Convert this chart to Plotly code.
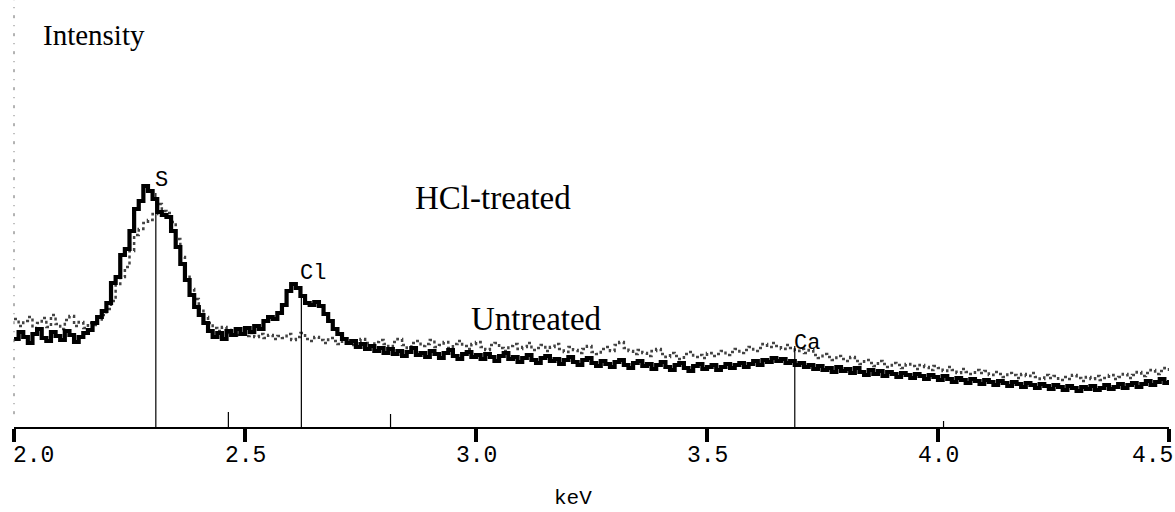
import plotly.graph_objects as go

# ---------------- data ----------------
E_START = 2.00
E_STEP = 0.01

hcl_treated = [
    88, 95, 90, 84, 93, 98, 89, 86, 95, 91,        # 2.00-2.09
    87, 96, 92, 85, 90, 94, 97, 104, 110, 116,     # 2.10-2.19
    124, 144, 150, 172, 178, 196, 218, 226, 241, 236,  # 2.20-2.29
    228, 215, 212, 210, 196, 180, 163, 147, 132, 120,  # 2.30-2.39
    112, 104, 96, 90, 94, 88, 96, 92, 98, 93,      # 2.40-2.49
    99, 95, 101, 98, 106, 110, 108, 114, 122, 136, # 2.50-2.59
    143, 139, 131, 124, 122, 125, 121, 113, 106, 98,   # 2.60-2.69
    93, 88, 84, 86, 80, 83, 78, 81, 76, 79,        # 2.70-2.79
    74, 78, 73, 76, 71, 75, 79, 72, 74, 70,        # 2.80-2.89
    76, 73, 69, 74, 77, 71, 68, 73, 75, 70,        # 2.90-2.99
    72, 68, 73, 70, 66, 71, 74, 68, 70, 65,        # 3.00-3.09
    69, 72, 67, 64, 69, 71, 66, 68, 63, 67,        # 3.10-3.19
    70, 65, 62, 67, 69, 64, 61, 66, 63, 60,        # 3.20-3.29
    65, 67, 62, 59, 64, 66, 61, 63, 58, 62,        # 3.30-3.39
    65, 60, 57, 62, 64, 59, 56, 61, 63, 58,        # 3.40-3.49
    60, 62, 57, 60, 63, 59, 62, 64, 60, 63,        # 3.50-3.59
    66, 62, 67, 65, 69, 66, 68, 64, 66, 62,        # 3.60-3.69
    64, 60, 62, 58, 61, 57, 59, 55, 60, 56,        # 3.70-3.79
    58, 54, 59, 55, 52, 57, 53, 56, 51, 55,        # 3.80-3.89
    53, 50, 54, 52, 49, 53, 51, 48, 52, 50,        # 3.90-3.99
    47, 51, 48, 45, 49, 47, 44, 48, 46, 43,        # 4.00-4.09
    47, 45, 42, 46, 44, 41, 45, 43, 40, 44,        # 4.10-4.19
    42, 39, 43, 41, 38, 42, 40, 37, 41, 39,        # 4.20-4.29
    36, 40, 38, 41, 37, 39, 42, 38, 40, 43,        # 4.30-4.39
    39, 42, 44, 40, 43, 46, 42, 45, 48, 44,        # 4.40-4.49
    47,                                            # 4.50
]

untreated = [
    108, 101, 106, 110, 99, 104, 109, 100, 112, 103,   # 2.00-2.09
    98, 107, 111, 101, 105, 99, 104, 102, 106, 112,    # 2.10-2.19
    118, 126, 143, 150, 160, 176, 192, 198, 204, 207,  # 2.20-2.29
    213, 223, 216, 214, 205, 188, 170, 152, 138, 128,  # 2.30-2.39
    118, 110, 104, 99, 96, 100, 94, 97, 92, 95,        # 2.40-2.49
    91, 94, 90, 93, 89, 92, 88, 91, 89, 93,            # 2.50-2.59
    87, 90, 94, 88, 86, 90, 87, 84, 89, 86,            # 2.60-2.69
    83, 87, 85, 82, 86, 88, 84, 81, 85, 87,            # 2.70-2.79
    83, 80, 85, 88, 82, 79, 84, 86, 81, 83,            # 2.80-2.89
    87, 80, 82, 85, 79, 83, 86, 81, 78, 83,            # 2.90-2.99
    85, 80, 77, 82, 84, 79, 76, 81, 83, 78,            # 3.00-3.09
    80, 84, 77, 79, 82, 76, 80, 83, 78, 75,            # 3.10-3.19
    80, 77, 74, 78, 81, 75, 73, 78, 80, 76,            # 3.20-3.29
    82, 85, 79, 76, 73, 77, 74, 71, 76, 78,            # 3.30-3.39
    73, 70, 74, 71, 68, 73, 75, 70, 72, 69,            # 3.40-3.49
    74, 71, 73, 76, 72, 75, 78, 74, 77, 80,            # 3.50-3.59
    76, 79, 83, 80, 84, 81, 78, 82, 79, 76,            # 3.60-3.69
    78, 74, 77, 72, 69, 73, 70, 67, 71, 68,            # 3.70-3.79
    66, 70, 66, 63, 67, 64, 61, 66, 63, 60,            # 3.80-3.89
    64, 62, 59, 63, 61, 58, 62, 60, 57, 61,            # 3.90-3.99
    59, 56, 60, 57, 54, 58, 55, 53, 57, 54,            # 4.00-4.09
    56, 52, 55, 53, 50, 54, 52, 49, 53, 51,            # 4.10-4.19
    54, 50, 48, 52, 49, 51, 47, 50, 48, 52,            # 4.20-4.29
    49, 46, 50, 48, 51, 47, 49, 52, 48, 50,            # 4.30-4.39
    53, 49, 52, 55, 51, 54, 57, 53, 56, 59,            # 4.40-4.49
    55,                                                # 4.50
]

energy = [round(E_START + i * E_STEP, 2) for i in range(len(hcl_treated))]

# element identification lines (KLM markers)
element_names = ["S", "Cl", "Ca"]
element_kev = [2.307, 2.622, 3.690]
element_line_top = [234, 141, 81]
element_label_y = [247, 154, 84]

minor_kev = [2.464, 2.815, 4.012]
minor_line_top = [15, 13, 6]

tick_vals = [2.0, 2.5, 3.0, 3.5, 4.0, 4.5]
tick_text = ["2.0", "2.5", "3.0", "3.5", "4.0", "4.5"]

series_labels = ["HCl-treated", "Untreated"]
series_label_pos = [(3.037, 229), (3.132, 108)]

# ---------------- figure ----------------
fig = go.Figure()

fig.add_trace(go.Scatter(
    x=energy, y=untreated, mode="lines", line_shape="hv",
    line=dict(color="#444444", width=2.5, dash="dot"),
    name="Untreated", hoverinfo="skip"))

fig.add_trace(go.Scatter(
    x=energy, y=hcl_treated, mode="lines", line_shape="hv",
    line=dict(color="#000000", width=4.2),
    name="HCl-treated", hoverinfo="skip"))

# marker lines
lx, ly = [], []
for e, h in zip(element_kev, element_line_top):
    lx += [e, e, None]
    ly += [0, h, None]
for e, h in zip(minor_kev, minor_line_top):
    lx += [e, e, None]
    ly += [0, h, None]
fig.add_trace(go.Scatter(x=lx, y=ly, mode="lines",
                         line=dict(color="#000000", width=1.2),
                         hoverinfo="skip", showlegend=False))

for name, e, yl in zip(element_names, element_kev, element_label_y):
    fig.add_annotation(x=e, y=yl, text=name, showarrow=False,
                       xanchor="left", yanchor="middle", xshift=-3,
                       font=dict(family="Liberation Mono", size=22, color="#000"))

for txt, (xe, yh) in zip(series_labels, series_label_pos):
    fig.add_annotation(x=xe, y=yh, text=txt, showarrow=False,
                       xanchor="center", yanchor="middle",
                       font=dict(family="Liberation Serif", size=33, color="#000"))

# tick labels
for i, (v, t) in enumerate(zip(tick_vals, tick_text)):
    if i == 0:
        xa, xs = "left", -3
    elif i == len(tick_vals) - 1:
        xa, xs = "right", 6
    else:
        xa, xs = "center", 0
    fig.add_annotation(x=v, y=0, xref="x", yref="paper", text=t,
                       showarrow=False, xanchor=xa, xshift=xs,
                       yanchor="middle", yshift=-29,
                       font=dict(family="Liberation Mono", size=23, color="#000"))

fig.add_annotation(x=0.484, y=0, xref="paper", yref="paper", text="keV",
                   showarrow=False, xanchor="center", yanchor="bottom",
                   yshift=-84, borderpad=0,
                   font=dict(family="Liberation Mono", size=21, color="#000"))

fig.add_annotation(x=0.023, y=1, xref="paper", yref="paper", text="Intensity",
                   showarrow=False, xanchor="left", yanchor="middle",
                   yshift=-35,
                   font=dict(family="Liberation Serif", size=29, color="#000"))

# faint dotted left axis
fig.add_shape(type="line", xref="paper", yref="paper", x0=0, x1=0,
              y0=0.03, y1=1.0,
              line=dict(color="#666666", width=1, dash="3px,7px,1px,7px"))

fig.update_xaxes(range=[2.0, 4.5], tickvals=tick_vals, showticklabels=False,
                 ticks="outside", ticklen=13, tickwidth=4, tickcolor="#000",
                 showline=True, linecolor="#000", linewidth=1.5,
                 showgrid=False, zeroline=False)
fig.update_yaxes(range=[0, 427], visible=False, showgrid=False, zeroline=False)

fig.update_layout(width=1175, height=512,
                  margin=dict(l=14, r=6, t=0, b=85),
                  paper_bgcolor="white", plot_bgcolor="white",
                  showlegend=False)

fig.write_html("out.html",
               config={"displayModeBar": False},
               post_script="document.body.style.margin='0';"
                           "document.body.style.padding='0';"
                           "document.body.style.overflow='hidden';")
